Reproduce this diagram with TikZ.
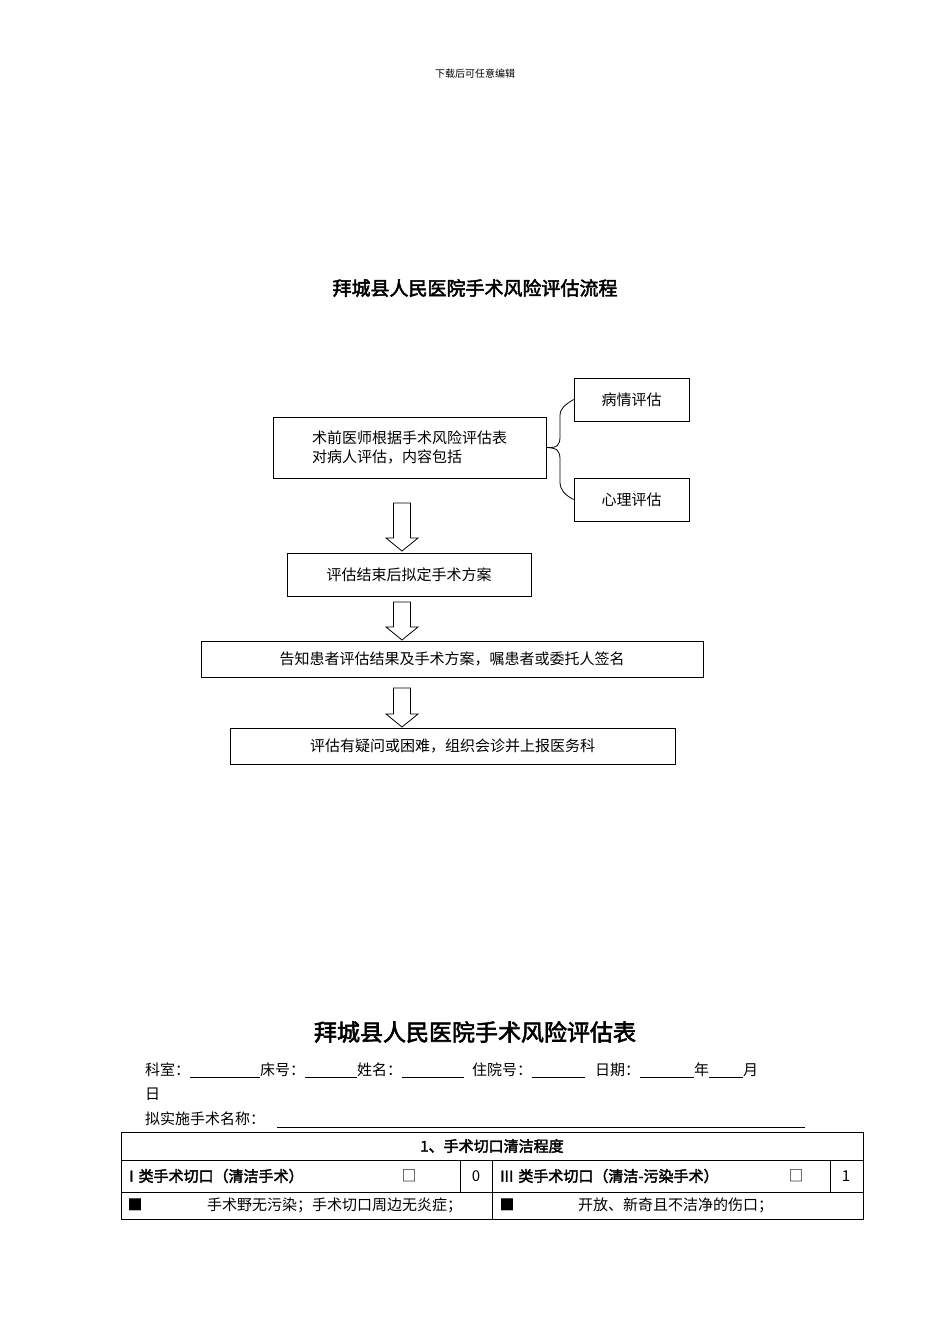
\documentclass[tikz,border=0pt]{standalone}
\usepackage{fontspec}
\setmainfont{Liberation Serif}
\newfontfamily\cjk[AutoFakeBold=2.5]{Noto Sans CJK SC}
\usetikzlibrary{calc}
\tikzset{
  box/.style={draw,line width=0.8pt,inner sep=0pt,font=\cjk\fontsize{15}{19}\selectfont},
  cell/.style={draw,line width=0.8pt},
  txt/.style={inner sep=0pt,font=\cjk\fontsize{15}{19}\selectfont},
  btxt/.style={inner sep=0pt,font=\cjk\bfseries\fontsize{15}{19}\selectfont},
  blk/.style={draw,line width=0.8pt,fill=white}
}
\newcommand{\hollowarrow}[2]{% x center, top y, bottom y via #2={top/bottom}
  \draw[blk] ($(#1,0)+(-8.5,0)$) -- ++(0,0);}
\newcommand{\blkarrow}[3]{%
  \draw[blk] (#1-8.5,#2) -- (#1+8.5,#2) -- (#1+8.5,#3-13) -- (#1+16,#3-13) -- (#1,#3) -- (#1-16,#3-13) -- (#1-8.5,#3-13) -- cycle;}
\newcommand{\uline}[1]{\rule[-2pt]{#1pt}{0.6pt}}
\begin{document}
\begin{tikzpicture}[x=1pt,y=-1pt]
\useasboundingbox[fill=white] (0,0) rectangle (950,1344);
\node[txt,font=\cjk\fontsize{10}{12}\selectfont] (hdr) at (475,74) {下载后可任意编辑};
\node[btxt,font=\cjk\bfseries\fontsize{19}{23}\selectfont] (t1) at (475,288) {拜城县人民医院手术风险评估流程};

\node[box,minimum width=273pt,minimum height=61pt,align=left] (A) at (409.5,447.5) {术前医师根据手术风险评估表\\对病人评估，内容包括};
\node[box,minimum width=115pt,minimum height=43pt] (B) at (631.5,399.5) {病情评估};
\node[box,minimum width=115pt,minimum height=43pt] (C) at (631.5,499.5) {心理评估};
\draw[line width=0.8pt] (A.east) .. controls (557,448) and (560,446) .. (560,436) -- (560,416) .. controls (560,408) and (565,405) .. (B.west);
\draw[line width=0.8pt] (A.east) .. controls (557,448) and (560,450) .. (560,460) -- (560,482) .. controls (560,490) and (565,495) .. (C.west);

\node[box,minimum width=244pt,minimum height=43pt] (D) at (409,574.5) {评估结束后拟定手术方案};
\node[box,minimum width=502pt,minimum height=36pt] (E) at (452,659) {告知患者评估结果及手术方案，嘱患者或委托人签名};
\node[box,minimum width=445pt,minimum height=36pt] (F) at (452.5,746) {评估有疑问或困难，组织会诊并上报医务科};
\blkarrow{402}{503}{551}
\blkarrow{402}{602}{640}
\blkarrow{402}{688}{727}

\node[btxt,font=\cjk\bfseries\fontsize{23}{27}\selectfont] (t2) at (475,1032) {拜城县人民医院手术风险评估表};
\node[txt,anchor=west] (l1) at (145,1070) {科室：\uline{70}床号：\uline{52}姓名：\uline{62}\hspace{8pt}住院号：\uline{53}\hspace{10pt}日期：\uline{54}年\uline{34}月};
\node[txt,anchor=west] (l2) at (145,1094) {日};
\node[txt,anchor=west] (l3) at (145,1119) {拟实施手术名称：};
\draw[line width=0.6pt] (277,1127) -- (805,1127);

\draw[cell] (121,1132) rectangle (863,1219);
\draw[cell] (121,1160) -- (863,1160);
\draw[cell] (121,1192) -- (863,1192);
\draw[cell] (460,1160) -- (460,1192);
\draw[cell] (492,1160) -- (492,1219);
\draw[cell] (830,1160) -- (830,1192);
\node[btxt] (h1) at (492,1146) {1、手术切口清洁程度};
\node[btxt,anchor=west] (c1) at (129,1176) {I\,\,类手术切口（清洁手术）};
\node[txt] (k1) at (409,1176) {□};
\node[txt] (n0) at (476,1176) {0};
\node[btxt,anchor=west] (c2) at (500,1176) {III\,\,类手术切口（清洁-污染手术）};
\node[txt] (k2) at (796,1176) {□};
\node[txt] (n1) at (846,1176) {1};
\node[txt] (s1) at (135,1205) {■};
\node[txt,anchor=west] (d1) at (207,1205) {手术野无污染；手术切口周边无炎症；};
\node[txt] (s2) at (507,1205) {■};
\node[txt,anchor=west] (d2) at (578,1205) {开放、新奇且不洁净的伤口；};
\end{tikzpicture}
\end{document}
